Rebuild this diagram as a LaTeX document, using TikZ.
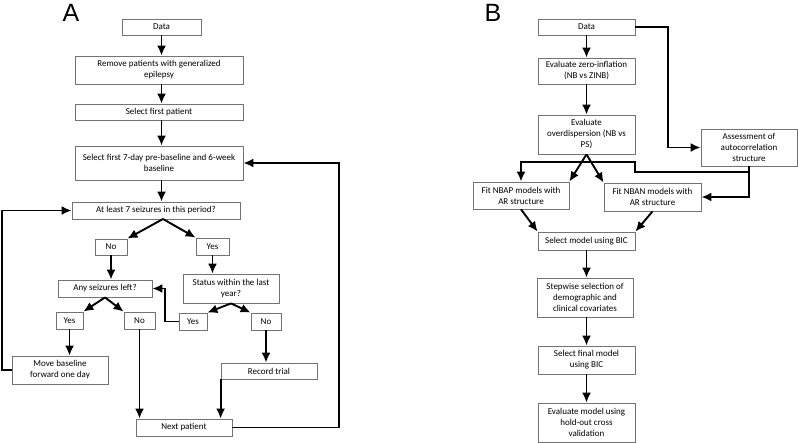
\documentclass[tikz,border=0pt]{standalone}
\usepackage{fontspec}
\setmainfont{Carlito}
\newfontfamily\panelfont{Liberation Sans}
\usetikzlibrary{arrows.meta}
\tikzset{box/.style = {draw = mgray, line width = 0.8pt, align = center, inner sep = 1pt,
                       font = \fontsize{9}{11}\selectfont}}
\tikzset{dims/.style 2 args = {minimum width = #1, minimum height = #2}}
\tikzset{flow/.style = {line width = 1.9pt, -{Latex[length = 10pt, width = 9pt]}}}
\tikzset{panel/.style = {font = \panelfont\fontsize{25}{25}\selectfont}}
\definecolor{mgray}{rgb}{0.45, 0.45, 0.45}

\begin{document}
\begin{tikzpicture}[x = 1pt, y = -1pt]
      \useasboundingbox (0, 0) rectangle (798, 443);

      % panel A
      \node [panel] (labA) at (71, 13) {A};
      \node [box, dims = {79}{16}] (dataA) at (161.5, 27) {Data};
      \node [box, dims = {168}{28}] (remove) at (159, 70) {Remove patients with generalized\\epilepsy};
      \node [box, dims = {168}{16}] (first) at (159, 112) {Select first patient};
      \node [box, dims = {168}{34}] (window) at (159, 163) {Select first 7-day pre-baseline and 6-week\\baseline};
      \node [box, dims = {168}{17}] (atleast) at (156, 210.5) {At least 7 seizures in this period?};
      \node [box, dims = {32}{16}] (noA) at (111, 247) {No};
      \node [box, dims = {33}{17}] (yesA) at (212.5, 246.5) {Yes};
      \node [box, dims = {94}{17}] (left) at (105, 288.5) {Any seizures left?};
      \node [box, dims = {96}{29}] (status) at (231, 288.5) {Status within the last\\year?};
      \node [box, dims = {27}{17}] (yesL) at (69.5, 320.5) {Yes};
      \node [box, dims = {31}{17}] (noL) at (139.5, 320.5) {No};
      \node [box, dims = {28}{17}] (yesR) at (193, 321.5) {Yes};
      \node [box, dims = {30}{17}] (noR) at (266, 321.5) {No};
      \node [box, dims = {96}{28}] (move) at (60, 370) {Move baseline\\forward one day};
      \node [box, dims = {96}{16}] (record) at (269, 371) {Record trial};
      \node [box, dims = {96}{17}] (next) at (184, 427.5) {Next patient};
      \coordinate (splitA) at (163, 219);
      \coordinate (loopA) at (339, 163);

      \draw [flow] (dataA.south) -- (dataA.south |- remove.north);
      \draw [flow] (dataA.south |- remove.south) -- (dataA.south |- first.north);
      \draw [flow] (dataA.south |- first.south) -- (dataA.south |- window.north);
      \draw [flow] (dataA.south |- window.south) -- (dataA.south |- atleast.north);
      \draw [flow] (splitA) -- (noA.north east);
      \draw [flow] (splitA) -- (yesA.north west);
      \draw [flow] (noA.south) -- (noA.south |- left.north);
      \draw [flow] (yesA.south) -- (yesA.south |- status.north);
      \draw [flow] (left.south) -- (yesL.north east);
      \draw [flow] (left.south) -- (noL.north west);
      \draw [flow] (status.south) -- (yesR.north east);
      \draw [flow] (status.south) -- (noR.north west);
      \draw [flow] (yesR.west) -- ++(-14, 0) |- (left.east);
      \draw [flow] (yesL.south) -- (yesL.south |- move.north);
      \draw [flow] (noL.south) -- (noL.south |- next.north);
      \draw [flow] (noR.south) -- (noR.south |- record.north);
      \draw [flow] (record.south west) -- (record.south west |- next.north);
      \draw [flow] (move.west) -- ++(-10, 0) |- (atleast.west);
      \draw [flow] (next.east) -| (loopA) -- (window.east);

      % panel B
      \node [panel] (labB) at (493, 13) {B};
      \node [box, dims = {97}{16}] (dataB) at (586.5, 27) {Data};
      \node [box, dims = {97}{26}] (zero) at (586.5, 71) {Evaluate zero-inflation\\(NB vs ZINB)};
      \node [box, dims = {97}{39}] (over) at (586.5, 134.5) {Evaluate\\overdispersion (NB vs\\PS)};
      \node [box, dims = {96}{37}] (assess) at (749, 147.5) {Assessment of\\autocorrelation\\structure};
      \node [box, dims = {96}{27}] (nbap) at (521, 195.5) {Fit NBAP models with\\AR structure};
      \node [box, dims = {97}{28}] (nban) at (652.5, 197) {Fit NBAN models with\\AR structure};
      \node [box, dims = {97}{18}] (bic) at (586.5, 241) {Select model using BIC};
      \node [box, dims = {96}{39}] (stepsel) at (585, 297.5) {Stepwise selection of\\demographic and\\clinical covariates};
      \node [box, dims = {97}{28}] (final) at (586.5, 360) {Select final model\\using BIC};
      \node [box, dims = {97}{39}] (evalm) at (586.5, 422.5) {Evaluate model using\\hold-out cross\\validation};
      \coordinate (corrB) at (668, 147.5);
      \coordinate (jogB) at (635, 172);
      \coordinate (jogC) at (635, 162);

      \draw [flow] (dataB.south) -- (dataB.south |- zero.north);
      \draw [flow] (zero.south) -- (zero.south |- over.north);
      \draw [flow] (dataB.east) -| (corrB) -- (assess.west);
      \draw [flow] (over.south) -- (nbap.north east);
      \draw [flow] (over.south) -- (nban.north west);
      \draw [flow] (assess.south) |- (nban.east);
      \draw [flow] (assess.south) |- (jogB) -- (jogC) -| (nbap.north);
      \draw [flow] (nbap.south) -- (bic.north west);
      \draw [flow] (nban.south) -- (bic.north east);
      \draw [flow] (bic.south) -- (bic.south |- stepsel.north);
      \draw [flow] (dataB.south |- stepsel.south) -- (dataB.south |- final.north);
      \draw [flow] (final.south) -- (final.south |- evalm.north);
    \end{tikzpicture}
\end{document}
